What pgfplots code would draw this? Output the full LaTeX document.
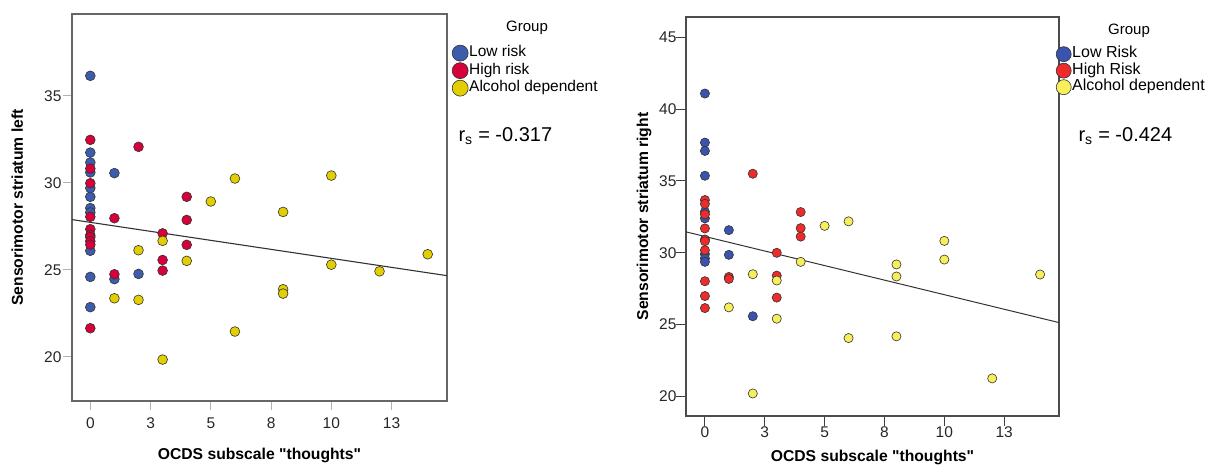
\documentclass[border=0pt]{standalone}
\usepackage{fontspec}
\setmainfont{Liberation Sans}[Ligatures=TeXOff]
\usepackage{pgfplots}
\pgfplotsset{compat=1.18}
\definecolor{lblue}{HTML}{3D5CAC}
\definecolor{lred}{HTML}{D6003A}
\definecolor{lyel}{HTML}{E3CF00}
\definecolor{rblue}{HTML}{3953AE}
\definecolor{rred}{HTML}{EE2B2B}
\definecolor{ryel}{HTML}{F7EE5B}
\pgfplotsset{
  common/.style={
    scale only axis,
    tick pos=left, tick align=outside,
    xtick={0,2.5,5,7.5,10,12.5}, xticklabels={0,3,5,8,10,13},
    ticklabel style={font=\fontsize{15.5}{15.5}\selectfont, color=black!85},
    label style={font=\bfseries\fontsize{15.7}{15.7}\selectfont},
    xlabel={OCDS subscale "thoughts"},
    legend cell align=left,
    legend image code/.code={\draw[mark repeat=2,mark phase=2,#1] plot coordinates {(0pt,0pt)(8pt,0pt)(16pt,0pt)};},
    legend style={draw=none, fill=none, anchor=north west, inner sep=0pt, row sep=0pt,
      font=\fontsize{15.5}{15.5}\selectfont},
  },
  pts/.style={only marks, mark=*, mark options={draw=black!80, line width=0.6pt, fill=#1}, color=#1},
}
\begin{document}
\begin{tikzpicture}
\useasboundingbox (0pt,0pt) rectangle (1208pt,-467pt);
% ---------------- left ----------------
\begin{axis}[common,
  at={(72pt,-14pt)}, anchor=north west,
  width=375pt, height=387pt,
  xmin=-0.76, xmax=14.8, ymin=17.47, ymax=39.7,
  ytick={20,25,30,35}, yticklabels={20,25,30,35},
  major tick length=9pt,
  tick style={color=black!30, line width=1pt},
  axis line style={color=black!60, line width=1.2pt},
  yticklabel style={xshift=2pt},
  xticklabel style={yshift=-4pt},
  ylabel={Sensorimotor striatum left},
  ylabel style={at={(axis description cs:-0.146,0.5)}, anchor=center},
  xlabel style={at={(axis description cs:0.5,-0.14)}, anchor=center},
  legend style={at={(axis description cs:1.0133,0.922)},
    nodes={inner sep=1pt, text height=11.5pt, text depth=4pt}},
  legend image post style={mark size=8pt},
]
\addplot[pts=lblue, mark size=4.9pt] coordinates {
(0,36.15) (0,31.74) (0,31.17) (0,30.6) (0,29.7) (0,29.2) (0,28.55) (0,28.3) (0,26.1) (0,24.6) (0,22.86)
(1,30.56) (1,24.47) (2,24.77)};
\addlegendentry{Low risk}
\addplot[pts=lred, mark size=4.9pt] coordinates {
(0,32.47) (0,30.82) (0,29.98) (0,28.05) (0,27.34) (0,27.0) (0,26.88) (0,26.65) (0,26.45) (0,21.65)
(1,27.97) (1,24.75) (2,32.07) (3,27.1) (3,25.57) (3,24.96) (4,29.2) (4,27.87) (4,26.44)};
\addlegendentry{High risk}
\addplot[pts=lyel, mark size=4.9pt] coordinates {
(1,23.37) (2,26.13) (2,23.28) (3,26.67) (3,19.85) (4,25.52) (5,28.93) (6,30.25) (6,21.46)
(8,28.33) (8,23.89) (8,23.64) (10,30.42) (10,25.3) (12,24.92) (14,25.9)};
\addlegendentry{Alcohol dependent}
\addplot[no marks, color=black!80, line width=1.1pt, forget plot] coordinates {(-0.76,27.89) (14.8,24.67)};
\end{axis}
\node[font=\fontsize{15}{15}\selectfont] at (527pt,-28pt) {Group};
\node[font=\fontsize{20}{20}\selectfont, anchor=base west] at (455pt,-141pt) {r\textsubscript{s} = -0.317};
% ---------------- right ----------------
\begin{axis}[common,
  at={(686pt,-17pt)}, anchor=north west,
  width=373pt, height=399pt,
  xmin=-0.79, xmax=14.79, ymin=18.62, ymax=46.42,
  ytick={20,25,30,35,40,45}, yticklabels={20,25,30,35,40,45},
  major tick length=10pt,
  tick style={color=black!75, line width=1pt},
  axis line style={color=black!70, line width=1.2pt},
  yticklabel style={xshift=4pt},
  xticklabel style={yshift=3pt},
  ylabel={Sensorimotor striatum right},
  ylabel style={at={(axis description cs:-0.1126,0.5)}, anchor=center},
  xlabel style={at={(axis description cs:0.5,-0.105)}, anchor=center},
  legend style={at={(axis description cs:0.992,0.928)}, font=\fontsize{16}{16}\selectfont,
    nodes={inner sep=1pt, text height=11pt, text depth=3.5pt}},
  legend image post style={mark size=7.5pt},
]
\addplot[pts=rblue, mark size=4.6pt] coordinates {
(0,41.09) (0,37.67) (0,37.09) (0,35.36) (0,32.85) (0,32.39) (0,29.9) (0,29.6) (0,29.36)
(1,31.57) (1,29.85) (2,25.57)};
\addlegendentry{Low Risk}
\addplot[pts=rred, mark size=4.6pt] coordinates {
(0,33.67) (0,33.4) (0,32.67) (0,31.69) (0,30.92) (0,30.8) (0,30.17) (0,28.01) (0,26.98) (0,26.14)
(1,28.31) (1,28.17) (2,35.5) (3,29.99) (3,28.4) (3,26.87) (4,32.83) (4,31.71) (4,31.12)};
\addlegendentry{High Risk}
\addplot[pts=ryel, mark size=4.6pt] coordinates {
(1,26.19) (2,28.5) (2,20.19) (3,28.06) (3,25.4) (4,29.36) (5,31.87) (6,32.18) (6,24.05)
(8,29.18) (8,28.34) (8,24.17) (10,30.82) (10,29.52) (12,21.24) (14,28.48)};
\addlegendentry{Alcohol dependent}
\addplot[no marks, color=black!80, line width=1pt, forget plot] coordinates {(-0.79,31.45) (14.79,25.13)};
\end{axis}
\node[font=\fontsize{15}{15}\selectfont] at (1129pt,-31pt) {Group};
\node[font=\fontsize{20}{20}\selectfont, anchor=base west] at (1075pt,-141pt) {r\textsubscript{s} = -0.424};
\end{tikzpicture}
\end{document}
